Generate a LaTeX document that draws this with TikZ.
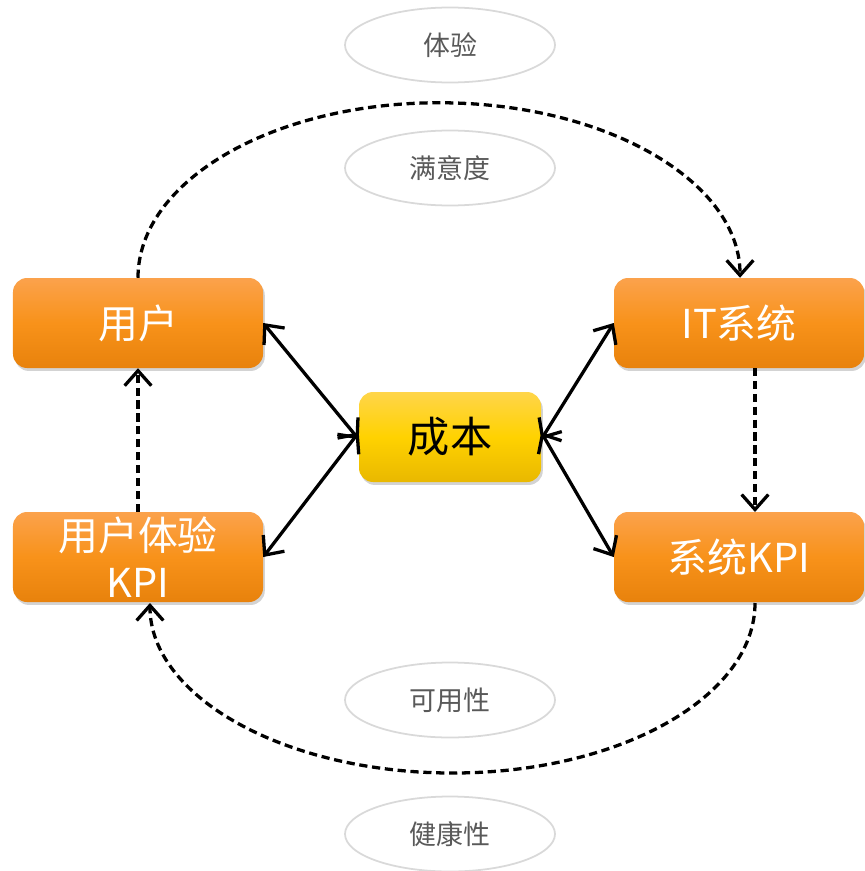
\documentclass[tikz,border=0pt]{standalone}
\usepackage{fontspec}
\newfontfamily\cjk{Noto Sans CJK SC}
\usetikzlibrary{arrows.meta,shadows}
\definecolor{orTop}{HTML}{FBA24C}
\definecolor{orMid}{HTML}{F8921A}
\definecolor{orBot}{HTML}{E8820C}
\definecolor{yeTop}{HTML}{FFD54A}
\definecolor{yeMid}{HTML}{FFD200}
\definecolor{yeBot}{HTML}{E9B800}
\definecolor{ringgray}{HTML}{D9D9D9}
\definecolor{txtgray}{HTML}{595959}
\tikzset{
  obox/.style={rounded corners=12pt, minimum width=7.5cm, minimum height=2.7cm,
    top color=orTop, bottom color=orBot, middle color=orMid, text=white,
    font=\cjk\fontsize{34}{40}\selectfont, align=center, inner sep=0pt,
    drop shadow={shadow xshift=1.5pt, shadow yshift=-2.5pt, opacity=0.35}},
  ybox/.style={obox, minimum width=5.46cm, top color=yeTop, bottom color=yeBot,
    middle color=yeMid, text=black, font=\cjk\fontsize{36}{40}\selectfont},
  tag/.style={ellipse, draw=ringgray, line width=1.5pt, fill=white, minimum width=6.3cm,
    minimum height=2.25cm, text=txtgray, font=\cjk\fontsize{23}{26}\selectfont},
  link/.style={line width=2.8pt, {Straight Barb[length=4.5mm,width=8mm]}-{Straight Barb[length=4.5mm,width=8mm]}},
  flow/.style={line width=2.8pt, dash pattern=on 7pt off 4pt, -{Straight Barb[length=4.5mm,width=8mm]}}
}
\usetikzlibrary{shapes.geometric}
\begin{document}
\begin{tikzpicture}[x=0.03cm,y=-0.03cm]
\useasboundingbox (0,0) rectangle (864,871);
\node[tag] (t1) at (450,45) {体验};
\node[tag] (t2) at (450,168) {满意度};
\node[tag] (t3) at (450,700) {可用性};
\node[tag] (t4) at (450,834) {健康性};
\node[obox] (user) at (138,323) {用户};
\node[obox] (ukpi) at (138,557) {用户体验\\KPI};
\node[obox] (itsys) at (739,323) {IT系统};
\node[obox] (skpi) at (739,557) {系统KPI};
\node[ybox] (cost) at (450,437) {成本};
\coordinate (itin) at (755,368);
\coordinate (skin) at (755,512);
\coordinate (skout) at (755,603);
\draw[link] (user.east) -- ([yshift=-2pt]cost.west);
\draw[link] (ukpi.east) -- ([yshift=4pt]cost.west);
\draw[link] ([yshift=-2pt]cost.east) -- (itsys.west);
\draw[link] ([yshift=4pt]cost.east) -- (skpi.west);
\draw[flow] (ukpi.north) -- (user.south);
\draw[flow] (itin) -- (skin);
\draw[flow] (user.north) arc[start angle=180, end angle=0, x radius=9.03cm, y radius=5.25cm];
\draw[flow] (skout) arc[start angle=0, end angle=-180, x radius=9.075cm, y radius=5.1cm];
\end{tikzpicture}
\end{document}
